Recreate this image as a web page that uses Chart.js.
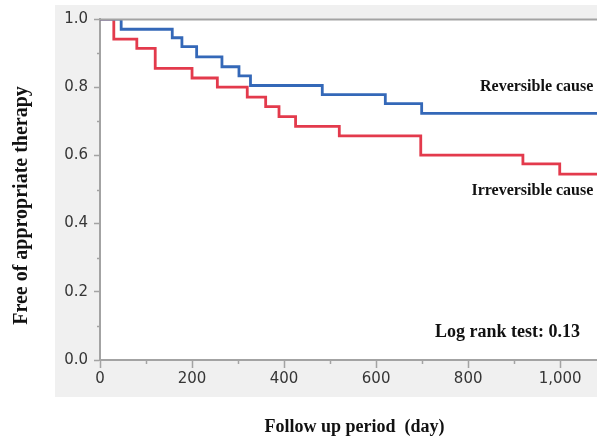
<!DOCTYPE html>
<html>
<head>
<meta charset="utf-8">
<script src="https://cdn.jsdelivr.net/npm/chart.js@4.4.1/dist/chart.umd.min.js"></script>
<style>
  html, body { margin: 0; padding: 0; background: #fff; }
  #wrap { width: 597px; height: 437px; position: relative; }
</style>
</head>
<body>
<div id="wrap"><canvas id="km"></canvas></div>
<script>
// Kaplan-Meier steps (day, survival)
const reversibleDays = [0, 46, 157, 178, 210, 265, 302, 327, 483, 620, 699, 1080];
const reversibleSurv = [1.0, 0.970, 0.945, 0.919, 0.889, 0.860, 0.833, 0.805, 0.778, 0.752, 0.723, 0.723];
const irreversibleDays = [0, 30, 80, 120, 200, 255, 320, 360, 389, 425, 520, 697, 919, 999, 1080];
const irreversibleSurv = [1.0, 0.941, 0.914, 0.855, 0.827, 0.800, 0.771, 0.743, 0.714, 0.685, 0.657, 0.601, 0.575, 0.545, 0.545];

const xMax = 1080;
const xStep = 100;   // minor ticks, labels every 200
const yStep = 0.1;   // minor ticks, labels every 0.2

// text placed in data units
const notes = [
  { text: 'Reversible cause', x: 1072, y: 0.80, size: 16 },
  { text: 'Irreversible cause', x: 1072, y: 0.496, size: 16 },
  { text: 'Log rank test: 0.13', x: 1043, y: 0.082, size: 18 }
];
const xTitle = 'Follow up period  (day)';
const yTitle = 'Free of appropriate therapy';

const AXIS = '#a3a3a3';
const TXT = '#363636';

function toPoints(xs, ys) { return xs.map((x, i) => ({ x, y: ys[i] })); }
const isMajorX = v => Math.round(v) % 200 === 0;
const isMajorY = v => Math.round(v * 10) % 2 === 0;

const panel = {
  id: 'panel',
  beforeDraw(chart) {
    const { ctx, chartArea: a, width } = chart;
    ctx.save();
    ctx.fillStyle = '#f0f0f0';
    ctx.fillRect(a.left - 45, a.top - 14, width - a.left + 45, a.bottom - a.top + 51);
    ctx.fillStyle = '#ffffff';
    ctx.fillRect(a.left, a.top, a.right - a.left, a.bottom - a.top);
    ctx.restore();
  },
  afterDatasetsDraw(chart) {
    // top frame line sits over the curves at 1.0
    const { ctx, chartArea: a } = chart;
    ctx.save();
    ctx.strokeStyle = AXIS;
    ctx.lineWidth = 2;
    ctx.beginPath();
    ctx.moveTo(a.left, a.top + 0.5);
    ctx.lineTo(a.right, a.top + 0.5);
    ctx.stroke();
    ctx.restore();
  },
  afterDraw(chart) {
    const { ctx, chartArea: a, scales } = chart;
    const xs = scales.x, ys = scales.y;
    ctx.save();
    // minor ticks (shorter)
    ctx.strokeStyle = AXIS;
    ctx.lineWidth = 1.5;
    ctx.beginPath();
    xs.ticks.forEach(t => {
      if (isMajorX(t.value)) return;
      const px = Math.round(xs.getPixelForValue(t.value)) + 0.5;
      ctx.moveTo(px, a.bottom);
      ctx.lineTo(px, a.bottom + 4);
    });
    ys.ticks.forEach(t => {
      if (isMajorY(t.value)) return;
      const py = Math.round(ys.getPixelForValue(t.value)) + 0.5;
      ctx.moveTo(a.left, py);
      ctx.lineTo(a.left - 3, py);
    });
    ctx.stroke();

    // notes
    ctx.fillStyle = '#111';
    ctx.textAlign = 'right';
    ctx.textBaseline = 'middle';
    notes.forEach(n => {
      ctx.font = 'bold ' + n.size + 'px "Liberation Serif"';
      ctx.fillText(n.text, xs.getPixelForValue(n.x), ys.getPixelForValue(n.y));
    });

    // axis titles
    ctx.textAlign = 'center';
    ctx.font = 'bold 18px "Liberation Serif"';
    ctx.fillText(xTitle, (a.left + a.right) / 2 + 6, a.bottom + 67);
    ctx.translate(22, (a.top + a.bottom) / 2 + 16);
    ctx.rotate(-Math.PI / 2);
    ctx.font = 'bold 20px "Liberation Serif"';
    ctx.fillText(yTitle, 0, 0);
    ctx.restore();
  }
};

new Chart(document.getElementById('km'), {
  type: 'line',
  data: {
    datasets: [
      {
        label: 'Reversible cause',
        data: toPoints(reversibleDays, reversibleSurv),
        borderColor: '#3468b8',
        borderWidth: 2.8,
        stepped: 'before',
        pointRadius: 0,
        fill: false
      },
      {
        label: 'Irreversible cause',
        data: toPoints(irreversibleDays, irreversibleSurv),
        borderColor: '#e33a4c',
        borderWidth: 2.8,
        stepped: 'before',
        pointRadius: 0,
        fill: false
      }
    ]
  },
  options: {
    responsive: true,
    maintainAspectRatio: false,
    animation: false,
    layout: { padding: { top: 19, right: 0, bottom: 0, left: 0 } },
    plugins: { legend: { display: false }, tooltip: { enabled: false } },
    scales: {
      x: {
        type: 'linear',
        min: 0,
        max: xMax,
        afterFit: s => { s.height = 77; },
        border: { color: AXIS, width: 2 },
        grid: {
          drawOnChartArea: false,
          tickLength: 8,
          tickWidth: 1.5,
          tickColor: c => isMajorX(c.tick.value) ? AXIS : 'rgba(0,0,0,0)'
        },
        ticks: {
          stepSize: xStep,
          includeBounds: false,
          autoSkip: false,
          maxRotation: 0,
          padding: 2,
          color: TXT,
          font: { family: 'DejaVu Sans', size: 15 },
          callback: v => isMajorX(v) ? Number(v).toLocaleString('en-US') : ''
        }
      },
      y: {
        min: 0,
        max: 1.0,
        afterFit: s => { s.width = 100; },
        border: { color: AXIS, width: 2 },
        grid: {
          drawOnChartArea: false,
          tickLength: 6,
          tickWidth: 1.5,
          tickColor: c => isMajorY(c.tick.value) ? AXIS : 'rgba(0,0,0,0)'
        },
        ticks: {
          stepSize: yStep,
          autoSkip: false,
          padding: 6,
          color: TXT,
          font: { family: 'DejaVu Sans', size: 15 },
          callback: v => isMajorY(v) ? Number(v).toFixed(1) : ''
        }
      }
    }
  },
  plugins: [panel]
});
</script>
</body>
</html>
